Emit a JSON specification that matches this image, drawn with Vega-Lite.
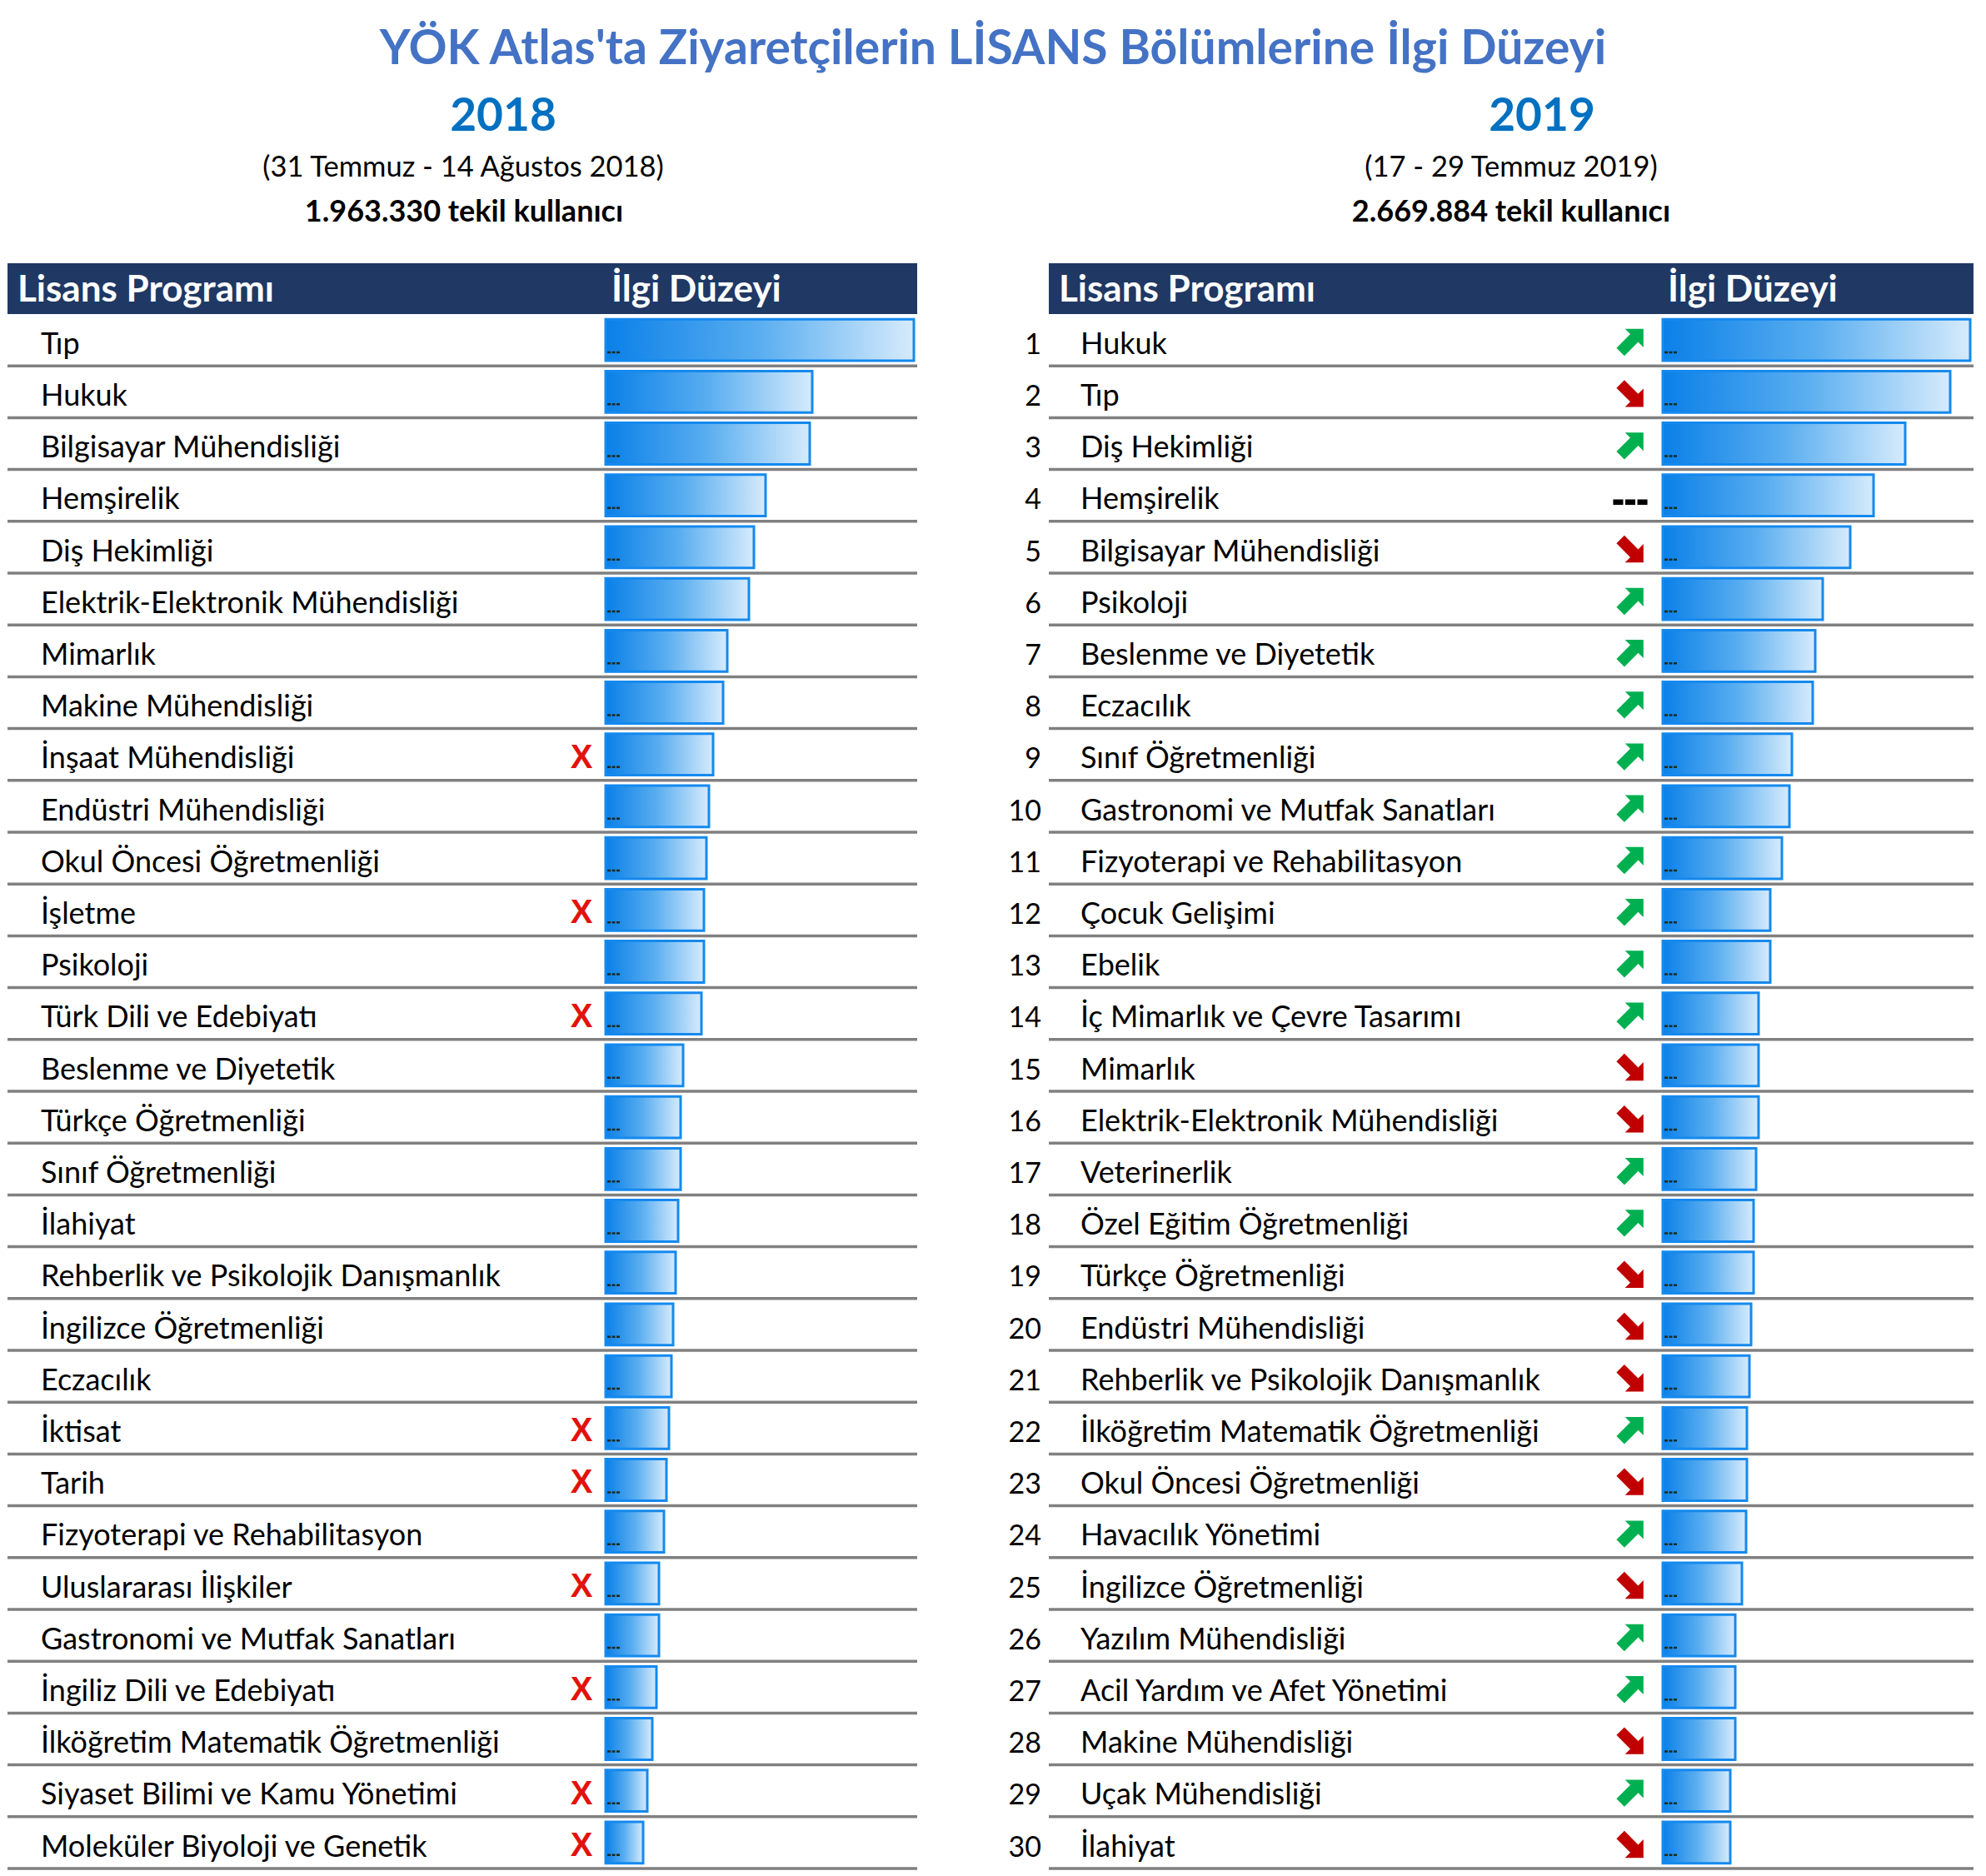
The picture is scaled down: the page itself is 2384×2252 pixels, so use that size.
{
  "$schema": "https://vega.github.io/schema/vega-lite/v6.json",
  "width": 2384,
  "height": 2252,
  "autosize": "none",
  "padding": 0,
  "background": "white",
  "config": {"view": {"stroke": null}, "font": "Lato"},
  "datasets": {
    "y2018": [
      {"rank": 1, "program": "Tıp", "value": 370, "dropped": false},
      {"rank": 2, "program": "Hukuk", "value": 248, "dropped": false},
      {"rank": 3, "program": "Bilgisayar Mühendisliği", "value": 245, "dropped": false},
      {"rank": 4, "program": "Hemşirelik", "value": 192, "dropped": false},
      {"rank": 5, "program": "Diş Hekimliği", "value": 178, "dropped": false},
      {"rank": 6, "program": "Elektrik-Elektronik Mühendisliği", "value": 172, "dropped": false},
      {"rank": 7, "program": "Mimarlık", "value": 146, "dropped": false},
      {"rank": 8, "program": "Makine Mühendisliği", "value": 141, "dropped": false},
      {"rank": 9, "program": "İnşaat Mühendisliği", "value": 129, "dropped": true},
      {"rank": 10, "program": "Endüstri Mühendisliği", "value": 124, "dropped": false},
      {"rank": 11, "program": "Okul Öncesi Öğretmenliği", "value": 121, "dropped": false},
      {"rank": 12, "program": "İşletme", "value": 118, "dropped": true},
      {"rank": 13, "program": "Psikoloji", "value": 118, "dropped": false},
      {"rank": 14, "program": "Türk Dili ve Edebiyatı", "value": 115, "dropped": true},
      {"rank": 15, "program": "Beslenme ve Diyetetik", "value": 93, "dropped": false},
      {"rank": 16, "program": "Türkçe Öğretmenliği", "value": 90, "dropped": false},
      {"rank": 17, "program": "Sınıf Öğretmenliği", "value": 90, "dropped": false},
      {"rank": 18, "program": "İlahiyat", "value": 87, "dropped": false},
      {"rank": 19, "program": "Rehberlik ve Psikolojik Danışmanlık", "value": 84, "dropped": false},
      {"rank": 20, "program": "İngilizce Öğretmenliği", "value": 81, "dropped": false},
      {"rank": 21, "program": "Eczacılık", "value": 79, "dropped": false},
      {"rank": 22, "program": "İktisat", "value": 76, "dropped": true},
      {"rank": 23, "program": "Tarih", "value": 73, "dropped": true},
      {"rank": 24, "program": "Fizyoterapi ve Rehabilitasyon", "value": 70, "dropped": false},
      {"rank": 25, "program": "Uluslararası İlişkiler", "value": 64, "dropped": true},
      {"rank": 26, "program": "Gastronomi ve Mutfak Sanatları", "value": 64, "dropped": false},
      {"rank": 27, "program": "İngiliz Dili ve Edebiyatı", "value": 61, "dropped": true},
      {"rank": 28, "program": "İlköğretim Matematik Öğretmenliği", "value": 56, "dropped": false},
      {"rank": 29, "program": "Siyaset Bilimi ve Kamu Yönetimi", "value": 50, "dropped": true},
      {"rank": 30, "program": "Moleküler Biyoloji ve Genetik", "value": 45, "dropped": true}
    ],
    "y2019": [
      {"rank": 1, "program": "Hukuk", "value": 369, "trend": "up"},
      {"rank": 2, "program": "Tıp", "value": 345, "trend": "down"},
      {"rank": 3, "program": "Diş Hekimliği", "value": 291, "trend": "up"},
      {"rank": 4, "program": "Hemşirelik", "value": 253, "trend": "same"},
      {"rank": 5, "program": "Bilgisayar Mühendisliği", "value": 225, "trend": "down"},
      {"rank": 6, "program": "Psikoloji", "value": 192, "trend": "up"},
      {"rank": 7, "program": "Beslenme ve Diyetetik", "value": 183, "trend": "up"},
      {"rank": 8, "program": "Eczacılık", "value": 180, "trend": "up"},
      {"rank": 9, "program": "Sınıf Öğretmenliği", "value": 155, "trend": "up"},
      {"rank": 10, "program": "Gastronomi ve Mutfak Sanatları", "value": 152, "trend": "up"},
      {"rank": 11, "program": "Fizyoterapi ve Rehabilitasyon", "value": 143, "trend": "up"},
      {"rank": 12, "program": "Çocuk Gelişimi", "value": 129, "trend": "up"},
      {"rank": 13, "program": "Ebelik", "value": 129, "trend": "up"},
      {"rank": 14, "program": "İç Mimarlık ve Çevre Tasarımı", "value": 115, "trend": "up"},
      {"rank": 15, "program": "Mimarlık", "value": 115, "trend": "down"},
      {"rank": 16, "program": "Elektrik-Elektronik Mühendisliği", "value": 115, "trend": "down"},
      {"rank": 17, "program": "Veterinerlik", "value": 112, "trend": "up"},
      {"rank": 18, "program": "Özel Eğitim Öğretmenliği", "value": 109, "trend": "up"},
      {"rank": 19, "program": "Türkçe Öğretmenliği", "value": 109, "trend": "down"},
      {"rank": 20, "program": "Endüstri Mühendisliği", "value": 106, "trend": "down"},
      {"rank": 21, "program": "Rehberlik ve Psikolojik Danışmanlık", "value": 104, "trend": "down"},
      {"rank": 22, "program": "İlköğretim Matematik Öğretmenliği", "value": 101, "trend": "up"},
      {"rank": 23, "program": "Okul Öncesi Öğretmenliği", "value": 101, "trend": "down"},
      {"rank": 24, "program": "Havacılık Yönetimi", "value": 100, "trend": "up"},
      {"rank": 25, "program": "İngilizce Öğretmenliği", "value": 95, "trend": "down"},
      {"rank": 26, "program": "Yazılım Mühendisliği", "value": 87, "trend": "up"},
      {"rank": 27, "program": "Acil Yardım ve Afet Yönetimi", "value": 87, "trend": "up"},
      {"rank": 28, "program": "Makine Mühendisliği", "value": 87, "trend": "down"},
      {"rank": 29, "program": "Uçak Mühendisliği", "value": 81, "trend": "up"},
      {"rank": 30, "program": "İlahiyat", "value": 81, "trend": "down"}
    ]
  },
  "layer": [
    {
      "data": {"values": [{"text": "YÖK Atlas'ta Ziyaretçilerin LİSANS Bölümlerine İlgi Düzeyi"}]},
      "mark": {"type": "text", "x": 1192, "y": 60, "align": "center", "baseline": "middle", "fontSize": 57, "fontWeight": "bold", "color": "#4472C4"},
      "encoding": {"text": {"field": "text"}}
    },
    {
      "data": {"values": [{"text": "2018"}]},
      "mark": {"type": "text", "x": 604, "y": 140, "align": "center", "baseline": "middle", "fontSize": 55, "fontWeight": "bold", "color": "#0070C0"},
      "encoding": {"text": {"field": "text"}}
    },
    {
      "data": {"values": [{"text": "2019"}]},
      "mark": {"type": "text", "x": 1851, "y": 140, "align": "center", "baseline": "middle", "fontSize": 55, "fontWeight": "bold", "color": "#0070C0"},
      "encoding": {"text": {"field": "text"}}
    },
    {
      "data": {"values": [{"text": "(31 Temmuz - 14 Ağustos 2018)"}]},
      "mark": {"type": "text", "x": 556, "y": 202, "align": "center", "baseline": "middle", "fontSize": 34.5, "color": "#000000"},
      "encoding": {"text": {"field": "text"}}
    },
    {
      "data": {"values": [{"text": "1.963.330 tekil kullanıcı"}]},
      "mark": {"type": "text", "x": 557, "y": 255, "align": "center", "baseline": "middle", "fontSize": 36, "fontWeight": "bold", "color": "#000000"},
      "encoding": {"text": {"field": "text"}}
    },
    {
      "data": {"values": [{"text": "(17 - 29 Temmuz 2019)"}]},
      "mark": {"type": "text", "x": 1814, "y": 202, "align": "center", "baseline": "middle", "fontSize": 34.5, "color": "#000000"},
      "encoding": {"text": {"field": "text"}}
    },
    {
      "data": {"values": [{"text": "2.669.884 tekil kullanıcı"}]},
      "mark": {"type": "text", "x": 1814, "y": 255, "align": "center", "baseline": "middle", "fontSize": 36, "fontWeight": "bold", "color": "#000000"},
      "encoding": {"text": {"field": "text"}}
    },
    {
      "data": {"values": [{"panel": "2018"}]},
      "mark": {"type": "rect", "x": 9, "x2": 1101, "y": 316, "y2": 377, "color": "#203864"},
      "encoding": {}
    },
    {
      "data": {"values": [{"panel": "2019"}]},
      "mark": {"type": "rect", "x": 1259, "x2": 2369, "y": 316, "y2": 377, "color": "#203864"},
      "encoding": {}
    },
    {
      "data": {"values": [{"text": "Lisans Programı"}]},
      "mark": {"type": "text", "x": 21, "y": 349, "align": "left", "baseline": "middle", "fontSize": 44, "fontWeight": "bold", "color": "white"},
      "encoding": {"text": {"field": "text"}}
    },
    {
      "data": {"values": [{"text": "İlgi Düzeyi"}]},
      "mark": {"type": "text", "x": 734, "y": 349, "align": "left", "baseline": "middle", "fontSize": 44, "fontWeight": "bold", "color": "white"},
      "encoding": {"text": {"field": "text"}}
    },
    {
      "data": {"values": [{"text": "Lisans Programı"}]},
      "mark": {"type": "text", "x": 1271, "y": 349, "align": "left", "baseline": "middle", "fontSize": 44, "fontWeight": "bold", "color": "white"},
      "encoding": {"text": {"field": "text"}}
    },
    {
      "data": {"values": [{"text": "İlgi Düzeyi"}]},
      "mark": {"type": "text", "x": 2002, "y": 349, "align": "left", "baseline": "middle", "fontSize": 44, "fontWeight": "bold", "color": "white"},
      "encoding": {"text": {"field": "text"}}
    },
    {
      "data": {"name": "y2018"},
      "mark": {"type": "rule", "x": 9, "x2": 1101, "color": "#808080", "strokeWidth": 3.5},
      "encoding": {
        "y": {"field": "rank", "type": "ordinal", "axis": null, "bandPosition": 1.125,
              "scale": {"range": [377, 2243], "paddingInner": 0.2, "paddingOuter": 0.1}}
      }
    },
    {
      "data": {"name": "y2019"},
      "mark": {"type": "rule", "x": 1259, "x2": 2369, "color": "#808080", "strokeWidth": 3.5},
      "encoding": {
        "y": {"field": "rank", "type": "ordinal", "axis": null, "bandPosition": 1.125}
      }
    },
    {
      "data": {"name": "y2018"},
      "mark": {"type": "bar", "stroke": "#1589EE", "strokeWidth": 3,
               "fill": {"gradient": "linear", "x1": 0, "y1": 0, "x2": 1, "y2": 0,
                        "stops": [{"offset": 0, "color": "#0A80E8"}, {"offset": 0.5, "color": "#5AAEF0"}, {"offset": 1, "color": "#D6EBFC"}]}},
      "encoding": {
        "y": {"field": "rank", "type": "ordinal", "axis": null},
        "x": {"field": "value", "type": "quantitative", "axis": null,
              "scale": {"domain": [0, 370], "range": [727, 1097], "nice": false, "zero": true}}
      }
    },
    {
      "data": {"name": "y2019"},
      "mark": {"type": "bar", "stroke": "#1589EE", "strokeWidth": 3,
               "fill": {"gradient": "linear", "x1": 0, "y1": 0, "x2": 1, "y2": 0,
                        "stops": [{"offset": 0, "color": "#0A80E8"}, {"offset": 0.5, "color": "#5AAEF0"}, {"offset": 1, "color": "#D6EBFC"}]}},
      "encoding": {
        "y": {"field": "rank", "type": "ordinal", "axis": null},
        "x": {"field": "value", "type": "quantitative", "axis": null,
              "scale": {"domain": [0, 370], "range": [1996, 2366], "nice": false, "zero": true}}
      }
    },
    {
      "data": {"name": "y2018"},
      "mark": {"type": "rule", "x": 729, "x2": 744, "color": "#1E2B22", "strokeWidth": 2.5, "strokeDash": [4, 1.5]},
      "encoding": {
        "y": {"field": "rank", "type": "ordinal", "axis": null, "bandPosition": 0.8}
      }
    },
    {
      "data": {"name": "y2019"},
      "mark": {"type": "rule", "x": 1998, "x2": 2013, "color": "#1E2B22", "strokeWidth": 2.5, "strokeDash": [4, 1.5]},
      "encoding": {
        "y": {"field": "rank", "type": "ordinal", "axis": null, "bandPosition": 0.8}
      }
    },
    {
      "data": {"name": "y2018"},
      "mark": {"type": "text", "x": 49, "align": "left", "baseline": "alphabetic", "fontSize": 36, "color": "#000000"},
      "encoding": {
        "y": {"field": "rank", "type": "ordinal", "axis": null, "bandPosition": 0.835},
        "text": {"field": "program"}
      }
    },
    {
      "data": {"name": "y2018"},
      "transform": [{"filter": "datum.dropped"}],
      "mark": {"type": "text", "x": 698, "align": "center", "baseline": "alphabetic", "fontSize": 40, "fontWeight": "bold", "font": "Liberation Sans", "text": "X", "color": "#E3120B"},
      "encoding": {
        "y": {"field": "rank", "type": "ordinal", "axis": null, "bandPosition": 0.82}
      }
    },
    {
      "data": {"name": "y2019"},
      "mark": {"type": "text", "x": 1250, "align": "right", "baseline": "alphabetic", "fontSize": 34, "color": "#000000"},
      "encoding": {
        "y": {"field": "rank", "type": "ordinal", "axis": null, "bandPosition": 0.835},
        "text": {"field": "rank"}
      }
    },
    {
      "data": {"name": "y2019"},
      "mark": {"type": "text", "x": 1297, "align": "left", "baseline": "alphabetic", "fontSize": 36, "color": "#000000"},
      "encoding": {
        "y": {"field": "rank", "type": "ordinal", "axis": null, "bandPosition": 0.835},
        "text": {"field": "program"}
      }
    },
    {
      "data": {"name": "y2019"},
      "mark": {"type": "point", "x": 1957, "filled": true, "size": 1000, "opacity": 1, "strokeWidth": 0},
      "encoding": {
        "y": {"field": "rank", "type": "ordinal", "axis": null, "bandPosition": 0.55},
        "shape": {"field": "trend", "type": "nominal", "legend": null,
                  "scale": {"domain": ["up", "down", "same"],
                            "range": ["M1,-1L1,0.4L0.6,0L-0.45,1.05L-1.05,0.45L0,-0.6L-0.4,-1Z",
                                      "M1,1L1,-0.4L0.6,0L-0.45,-1.05L-1.05,-0.45L0,0.6L-0.4,1Z",
                                      "M-1.3,0.15H-0.54V0.55H-1.3Z M-0.38,0.15H0.38V0.55H-0.38Z M0.54,0.15H1.3V0.55H0.54Z"]}},
        "color": {"field": "trend", "type": "nominal", "legend": null,
                  "scale": {"domain": ["up", "down", "same"], "range": ["#00B050", "#C00000", "#000000"]}}
      }
    }
  ],
  "resolve": {"scale": {"x": "independent"}}
}
